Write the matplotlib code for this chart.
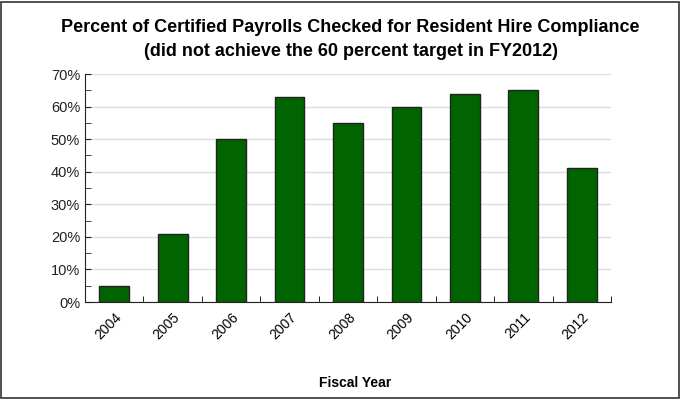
import matplotlib.pyplot as plt
import matplotlib.patches as patches
from matplotlib.ticker import MultipleLocator, PercentFormatter

# === Data ===
years = ['2004', '2005', '2006', '2007', '2008', '2009', '2010', '2011', '2012']
pct_checked = [5, 21, 50, 63, 55, 60, 64, 65, 41]

plt.rcParams['font.family'] = ['Liberation Sans', 'DejaVu Sans']

fig = plt.figure(figsize=(6.82, 4.0), dpi=100)
ax = fig.add_axes([0.1246, 0.245, 0.7714, 0.57])

x = range(len(years))
ax.bar(x, pct_checked, width=0.51, color='#006400', edgecolor='#222222', linewidth=1.0, zorder=3)

# === Axes styling ===
ax.set_xlim(-0.5, len(years) - 0.5)
ax.set_ylim(0, 70)
ax.yaxis.set_major_locator(MultipleLocator(10))
ax.yaxis.set_minor_locator(MultipleLocator(5))
ax.yaxis.set_major_formatter(PercentFormatter(decimals=0))
ax.tick_params(axis='y', which='both', direction='in', length=4, labelsize=10.5, colors='#222222')
ax.grid(axis='y', color='#dddddd', linewidth=1.0, zorder=0)

ax.set_xticks(list(x))
ax.set_xticklabels(years, rotation=45, ha='right', rotation_mode='anchor', fontsize=10)
ax.set_xticks([i + 0.5 for i in range(len(years))], minor=True)
ax.tick_params(axis='x', which='major', length=0, pad=6)
ax.tick_params(axis='x', which='minor', direction='in', length=4)

for side in ['top', 'right']:
    ax.spines[side].set_visible(False)
for side in ['left', 'bottom']:
    ax.spines[side].set_color('#222222')

fig.text(0.52, 0.043, 'Fiscal Year', fontsize=10, fontweight='bold', ha='center', va='center')

fig.text(0.514, 0.93, 'Percent of Certified Payrolls Checked for Resident Hire Compliance',
         fontsize=13, fontweight='bold', ha='center', va='center')
fig.text(0.514, 0.87, '(did not achieve the 60 percent target in FY2012)',
         fontsize=13, fontweight='bold', ha='center', va='center')

# figure border
fig.patches.append(patches.Rectangle((0.002, 0.005), 0.994, 0.99, transform=fig.transFigure,
                                     fill=False, edgecolor='#333333', linewidth=1.2))

fig.savefig('out.png', dpi=100)
